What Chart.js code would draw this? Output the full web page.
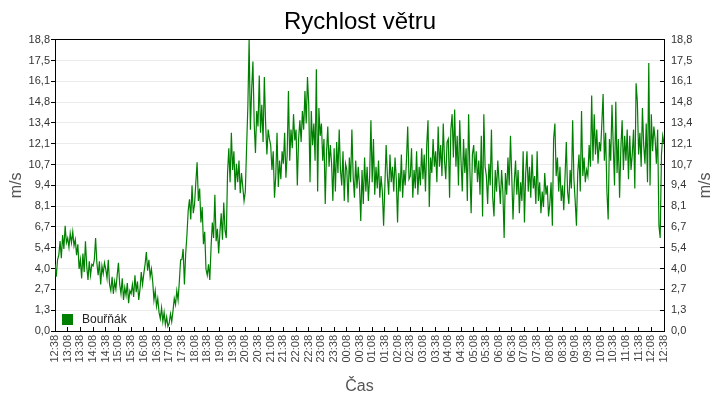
<!DOCTYPE html>
<html>
<head>
<meta charset="utf-8">
<script src="https://cdn.jsdelivr.net/npm/chart.js@4.4.1/dist/chart.umd.min.js"></script>
<style>
  html, body { margin: 0; padding: 0; background: #fff; }
  #wrap { width: 720px; height: 400px; }
</style>
</head>
<body>
<div id="wrap"><canvas id="chart" width="720" height="400"></canvas></div>
<script>
/* chart data */
const seriesLabel = "Bouřňák";
const stepMinutes = 3;   // one reading every 3 minutes, starting 12:38

const xTickLabels = [
  "12:38","13:08","13:38","14:08","14:38","15:08","15:38","16:08","16:38","17:08",
  "17:38","18:08","18:38","19:08","19:38","20:08","20:38","21:08","21:38","22:08",
  "22:38","23:08","23:38","00:08","00:38","01:08","01:38","02:08","02:38","03:08",
  "03:38","04:08","04:38","05:08","05:38","06:08","06:38","07:08","07:38","08:08",
  "08:38","09:08","09:38","10:08","10:38","11:08","11:38","12:08","12:38"
];

const yTickLabels = ["0,0","1,3","2,7","4,0","5,4","6,7","8,1","9,4","10,7","12,1","13,4","14,8","16,1","17,5","18,8"];
const yMax = 18.8;

// wind speed in m/s, rows = 30 minute blocks
const windSpeed = [
  4.3, 3.5, 4.6, 4.9, 5.8, 4.7, 6.2, 5.3, 6.8, 5.7,
  6.0, 5.4, 6.3, 5.7, 6.4, 5.5, 5.9, 4.9, 5.6, 4.0,
  4.6, 3.4, 5.0, 3.8, 5.8, 4.2, 3.3, 4.5, 3.6, 4.3,
  4.2, 4.6, 6.0, 4.4, 3.6, 4.5, 3.0, 4.2, 3.7, 4.4,
  4.0, 3.4, 4.6, 3.0, 2.6, 3.5, 2.4, 3.2, 2.7, 3.6,
  4.4, 3.0, 2.4, 3.4, 2.0, 2.8, 2.3, 3.1, 1.8, 2.6,
  2.4, 3.0, 2.2, 3.6, 2.5, 3.2, 2.0, 2.7, 3.8, 3.0,
  3.7, 4.3, 5.1, 3.9, 4.6, 3.5, 4.0, 3.2, 2.0, 2.6,
  1.6, 2.1, 1.2, 0.8, 1.5, 0.6, 1.2, 0.4, 0.9, 0.3,
  0.5, 1.1, 0.6, 1.3, 2.1, 1.7, 2.6, 2.0, 3.2, 4.6,
  4.6, 5.3, 3.0, 5.0, 6.2, 7.8, 8.5, 7.2, 9.4, 7.6,
  8.2, 9.6, 10.9, 8.4, 9.2, 7.0, 8.0, 5.6, 6.4, 4.0,
  3.6, 4.3, 3.3, 5.4, 7.0, 6.0, 8.8, 5.8, 6.6, 5.0,
  6.4, 7.6, 5.9, 8.3, 6.5, 6.0, 10.2, 11.8, 9.6, 12.8,
  10.4, 11.6, 9.1, 10.8, 9.6, 11.0, 8.9, 10.2, 9.3, 8.4,
  9.0, 11.8, 14.5, 18.8, 13.0, 15.6, 17.4, 13.4, 11.5, 14.2,
  13.2, 16.5, 12.8, 14.6, 12.2, 16.4, 13.4, 11.4, 13.0, 12.4,
  12.0, 10.4, 11.6, 8.6, 10.0, 12.8, 9.3, 11.0, 9.8, 11.6,
  10.8, 12.8, 9.9, 11.4, 15.5, 11.0, 13.0, 11.8, 14.0, 12.3,
  13.0, 9.4, 12.4, 13.6, 12.2, 14.2, 13.0, 15.5, 13.4, 16.4,
  14.6, 9.6, 14.2, 12.0, 13.4, 11.0, 16.9, 9.0, 14.4, 12.6,
  13.4, 11.0, 12.4, 8.2, 11.5, 13.2, 10.6, 12.0, 10.8, 8.4,
  11.8, 9.0, 12.2, 10.2, 13.0, 10.4, 9.4, 11.6, 8.4, 10.8,
  10.4, 8.3, 11.2, 9.6, 13.0, 10.0, 8.6, 11.0, 9.2, 10.6,
  9.4, 7.1, 10.4, 8.2, 11.2, 9.0, 10.6, 8.4, 10.0, 13.6,
  9.6, 12.4, 8.8, 10.6, 9.2, 11.0, 8.6, 10.0, 9.0, 6.8,
  9.4, 12.0, 10.0, 8.8, 11.4, 9.6, 10.6, 9.0, 11.2, 9.8,
  7.0, 10.2, 9.0, 11.4, 8.6, 10.4, 9.4, 11.0, 13.2, 9.8,
  10.0, 11.8, 8.6, 10.4, 9.2, 11.6, 8.8, 10.6, 9.4, 11.8,
  9.8, 11.4, 9.0, 12.0, 13.6, 8.0, 11.2, 10.2, 12.4, 10.6,
  11.6, 9.6, 13.2, 10.6, 12.0, 10.0, 13.4, 11.0, 9.8, 12.2,
  12.4, 8.6, 13.0, 14.0, 11.2, 14.3, 10.6, 12.6, 9.4, 13.6,
  11.0, 9.0, 12.4, 10.2, 11.8, 8.4, 14.0, 10.4, 7.6, 11.4,
  12.0, 10.2, 11.6, 9.6, 11.0, 8.8, 12.6, 7.4, 14.0, 10.6,
  10.0, 8.2, 10.8, 9.4, 13.0, 8.6, 7.4, 10.4, 9.0, 11.0,
  9.6, 8.2, 10.4, 9.0, 6.0, 10.2, 8.8, 11.2, 9.4, 12.6,
  10.0, 7.2, 9.6, 11.0, 8.8, 10.4, 7.6, 9.6, 8.4, 11.6,
  7.0, 10.2, 11.6, 9.0, 10.6, 8.6, 11.4, 9.2, 10.0, 8.2,
  11.6, 8.4, 9.6, 7.6, 9.0, 8.0, 10.2, 8.8, 9.4, 7.4,
  8.2, 9.6, 6.8, 12.4, 13.4, 10.0, 11.2, 9.0, 10.6, 8.4,
  9.4, 7.8, 10.0, 12.2, 9.0, 8.2, 10.4, 9.2, 13.6, 9.8,
  8.4, 6.8, 10.2, 11.4, 9.0, 14.2, 10.0, 11.2, 9.6, 10.4,
  10.0, 12.0, 10.6, 15.2, 11.0, 14.0, 11.4, 13.0, 10.8, 12.2,
  11.6, 13.4, 15.3, 11.0, 12.8, 9.0, 7.2, 12.4, 11.0, 14.6,
  12.0, 9.4, 14.8, 10.2, 12.4, 8.6, 11.8, 13.6, 10.4, 12.6,
  11.0, 13.0, 9.8, 12.6, 10.4, 11.4, 13.0, 9.2, 16.0, 14.8,
  11.4, 12.8, 10.6, 14.4, 12.0, 10.8, 13.4, 9.6, 17.3, 9.4,
  14.0, 11.6, 13.2, 12.4, 10.8, 13.0, 6.8, 6.0, 11.4, 12.6,
  12.1
];

const lineColor = "#008000";
const FONT = "'Liberation Sans', Arial, sans-serif";

/* legend inside the plot (bottom left) and the right axis title, read bottom-up */
const extras = {
  id: "extras",
  afterDraw(chart) {
    const ctx = chart.ctx;
    const area = chart.chartArea;
    const ds = chart.data.datasets[0];
    ctx.save();
    ctx.fillStyle = ds.borderColor;
    ctx.fillRect(area.left + 7, area.bottom - 17, 11, 11);
    ctx.fillStyle = "#222";
    ctx.font = "12px " + FONT;
    ctx.textBaseline = "middle";
    ctx.textAlign = "left";
    ctx.fillText(ds.label, area.left + 27, area.bottom - 11);

    ctx.translate(chart.width - 14, (area.top + area.bottom) / 2);
    ctx.rotate(-Math.PI / 2);
    ctx.fillStyle = "#555";
    ctx.font = "16px " + FONT;
    ctx.textAlign = "center";
    ctx.fillText("m/s", 0, 0);
    ctx.restore();
  }
};

const yTickValues = yTickLabels.map((_, i) => i * yMax / (yTickLabels.length - 1));

function fixTicks(scale) {
  scale.ticks = yTickValues.map(v => ({ value: v }));
}

new Chart(document.getElementById("chart"), {
  type: "line",
  data: {
    datasets: [{
      label: seriesLabel,
      data: windSpeed.map((v, i) => ({ x: i * stepMinutes, y: v })),
      borderColor: lineColor,
      backgroundColor: lineColor,
      borderWidth: 1.2,
      pointRadius: 0,
      tension: 0,
      yAxisID: "y"
    }]
  },
  options: {
    responsive: false,
    animation: false,
    devicePixelRatio: 1,
    layout: { padding: 0 },
    plugins: {
      legend: { display: false },
      tooltip: { enabled: false },
      title: {
        display: true,
        text: "Rychlost větru",
        color: "#000",
        font: { family: FONT, size: 24, weight: "normal" },
        padding: { top: 8, bottom: 3 }
      }
    },
    scales: {
      x: {
        type: "linear",
        min: 0,
        max: (xTickLabels.length - 1) * 30,
        afterBuildTicks: s => { s.ticks = xTickLabels.map((_, i) => ({ value: i * 30 })); },
        afterFit: s => { s.height = 69; },
        ticks: {
          autoSkip: false,
          minRotation: 90,
          maxRotation: 90,
          padding: 8,
          color: "#444",
          font: { family: FONT, size: 11 },
          callback: (v, i) => xTickLabels[i]
        },
        grid: { drawOnChartArea: false, tickLength: -4, tickColor: "#000" },
        border: { display: true, color: "#000", width: 1 },
        title: {
          display: true, text: "Čas", color: "#555",
          font: { family: FONT, size: 16 },
          padding: { top: 0, bottom: 4 }
        }
      },
      y: {
        position: "left",
        min: 0,
        max: yMax,
        afterBuildTicks: fixTicks,
        afterFit: s => { s.width = 55; },
        ticks: {
          padding: 1,
          color: "#333",
          font: { family: FONT, size: 11 },
          callback: (v, i) => yTickLabels[i]
        },
        grid: {
          color: ctx => (ctx.tick && Math.abs(ctx.tick.value - yMax) < 1e-6) ? "#000" : "#ebebeb",
          tickLength: 4,
          tickColor: "#000"
        },
        border: { display: true, color: "#000", width: 1 },
        title: {
          display: true, text: "m/s", color: "#555",
          font: { family: FONT, size: 16 },
          padding: { top: 7, bottom: 0 }
        }
      },
      y2: {
        position: "right",
        min: 0,
        max: yMax,
        afterBuildTicks: fixTicks,
        afterFit: s => { s.width = 56; },
        ticks: {
          padding: 11,
          color: "#333",
          font: { family: FONT, size: 11 },
          callback: (v, i) => yTickLabels[i]
        },
        grid: { drawOnChartArea: false, tickLength: -4, tickColor: "#000" },
        border: { display: true, color: "#000", width: 1 },
        title: { display: false }
      }
    }
  },
  plugins: [extras]
});
</script>
</body>
</html>
